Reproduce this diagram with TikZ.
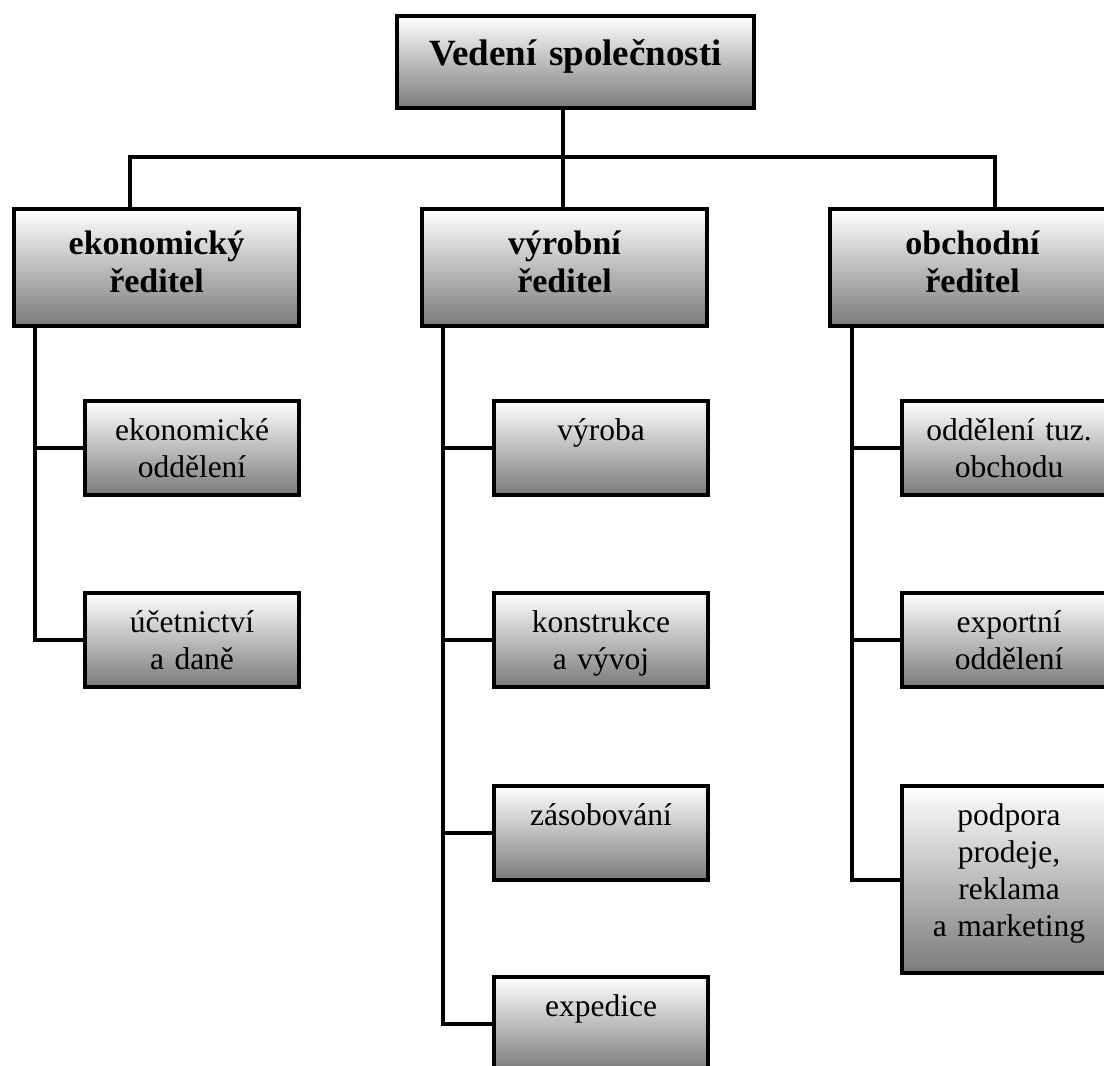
\documentclass[tikz,border=0pt]{standalone}
\usepackage{fontspec}
\setmainfont{Liberation Serif}
\begin{document}
\begin{tikzpicture}[x=1pt,y=-1pt]
\tikzset{
  box/.style={draw=black, line width=4pt, top color=white, bottom color=black!52,
    inner sep=0pt, anchor=north west, align=center, minimum height=0pt, minimum width=0pt},
  topbox/.style={box, font=\bfseries\fontsize{37}{44}\selectfont, text width=357pt, text height=49pt, text depth=43pt},
  headbox/.style={box, font=\bfseries\fontsize{34}{38}\selectfont, text width=285pt, text height=45pt, text depth=72pt},
  subbox/.style={box, font=\fontsize{31.5}{37}\selectfont, text width=214pt, text height=39pt, text depth=55pt},
  wire/.style={draw=black, line width=4pt}
}
\useasboundingbox (0,0) rectangle (1104,1066);
\clip (0,0) rectangle (1104,1066);

% junction coordinates
\coordinate (J) at (563,157);
\coordinate (JL) at (130,157);
\coordinate (JR) at (995,157);
\coordinate (SL) at (35,0);
\coordinate (SM) at (443,0);
\coordinate (SR) at (852,0);

% boxes
\node[topbox] (top) at (395,14) {Vedení společnosti};

\node[headbox] (eko) at (12,207) {ekonomický\\ředitel};
\node[headbox] (vyr) at (420,207) {výrobní\\ředitel};
\node[headbox] (obc) at (828,207) {obchodní\\ředitel};

\node[subbox] (ekod) at (83,399) {ekonomické\\oddělení};
\node[subbox] (ucet) at (83,591) {účetnictví\\a daně};

\node[subbox] (vyroba) at (492,399) {výroba};
\node[subbox] (konst) at (492,591) {konstrukce\\a vývoj};
\node[subbox] (zasob) at (492,784) {zásobování};
\node[subbox] (exped) at (492,975) {expedice};

\node[subbox] (tuz) at (900,399) {oddělení tuz.\\obchodu};
\node[subbox] (expo) at (900,591) {exportní\\oddělení};
\node[subbox, text depth=148pt] (podp) at (900,784) {podpora\\prodeje,\\reklama\\a marketing};

% connectors
\draw[wire] (top.south -| J) -- (J);
\draw[wire] (eko.north -| JL) -- (JL) -- (JR) -- (obc.north -| JR);
\draw[wire] (J) -- (vyr.north -| J);

\draw[wire] (eko.south -| SL) |- (ucet.west);
\draw[wire] (SL |- ekod.west) -- (ekod.west);

\draw[wire] (vyr.south -| SM) |- (exped.west);
\draw[wire] (SM |- vyroba.west) -- (vyroba.west);
\draw[wire] (SM |- konst.west) -- (konst.west);
\draw[wire] (SM |- zasob.west) -- (zasob.west);

\draw[wire] (obc.south -| SR) |- (podp.west);
\draw[wire] (SR |- tuz.west) -- (tuz.west);
\draw[wire] (SR |- expo.west) -- (expo.west);
\end{tikzpicture}
\end{document}
